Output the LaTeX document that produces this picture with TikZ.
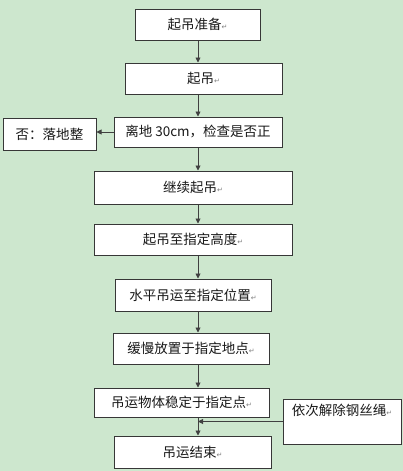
\documentclass[tikz,border=0pt]{standalone}
\usepackage{fontspec}
\newfontfamily\cjk{Noto Sans CJK SC}
\newfontfamily\dejavu{DejaVu Sans}
\usetikzlibrary{arrows.meta}
\definecolor{bggreen}{RGB}{205,231,206}
\definecolor{boxline}{RGB}{55,55,55}
\newcommand{\pmark}{{\dejavu\color{gray}\fontsize{7pt}{8pt}\selectfont ↵}}
\tikzset{
  x=1pt, y=-1pt,
  stepbox/.style={draw=boxline, line width=1pt, fill=white, inner sep=0pt,
    font=\cjk\fontsize{13.5pt}{15pt}\selectfont, text=black!90},
  arr/.style={draw=black!75, line width=0.9pt, -{Triangle[length=5pt,width=5pt]}}
}
\begin{document}
\begin{tikzpicture}
\fill[bggreen] (0,0) rectangle (403,471);
\useasboundingbox (0,0) rectangle (403,471);
\coordinate (spine) at (198,0);
\node[stepbox, minimum width=125pt, minimum height=31pt] (b1) at (197.5,24.5) {起吊准备\pmark};
\node[stepbox, minimum width=157pt, minimum height=31pt] (b2) at (203.5,78.5) {起吊\pmark};
\node[stepbox, minimum width=168pt, minimum height=30pt] (b3) at (198,132) {离地 30cm，检查是否正};
\node[stepbox, minimum width=93pt, minimum height=32pt] (s1) at (49.5,134) {否：落地整};
\node[stepbox, minimum width=198pt, minimum height=33pt] (b4) at (193,187.5) {继续起吊\pmark};
\node[stepbox, minimum width=198pt, minimum height=31pt] (b5) at (193,239.5) {起吊至指定高度\pmark};
\node[stepbox, minimum width=156pt, minimum height=32pt] (b6) at (193,295) {水平吊运至指定位置\pmark};
\node[stepbox, minimum width=156pt, minimum height=31pt] (b7) at (191,348.5) {缓慢放置于指定地点\pmark};
\node[stepbox, minimum width=175pt, minimum height=29pt] (b8) at (181.5,402.5) {吊运物体稳定于指定点\pmark};
\node[stepbox, minimum width=157pt, minimum height=32pt] (b9) at (192.5,452) {吊运结束\pmark};
\node[stepbox, minimum width=118pt, minimum height=45pt, text depth=24pt] (s2) at (342,421.5) {依次解除钢丝绳\pmark};
\draw[arr] (b1.south -| spine) -- (b2.north -| spine);
\draw[arr] (b2.south -| spine) -- (b3.north -| spine);
\draw[arr] (b3.south -| spine) -- (b4.north -| spine);
\draw[arr] (b4.south -| spine) -- (b5.north -| spine);
\draw[arr] (b5.south -| spine) -- (b6.north -| spine);
\draw[arr] (b6.south -| spine) -- (b7.north -| spine);
\draw[arr] (b7.south -| spine) -- (b8.north -| spine);
\draw[arr] (b8.south -| spine) -- (b9.north -| spine);
\draw[arr] (b3.west) -- (b3.west -| s1.east);
\draw[arr] (s2.west) -- (s2.west -| spine);
\end{tikzpicture}
\end{document}
